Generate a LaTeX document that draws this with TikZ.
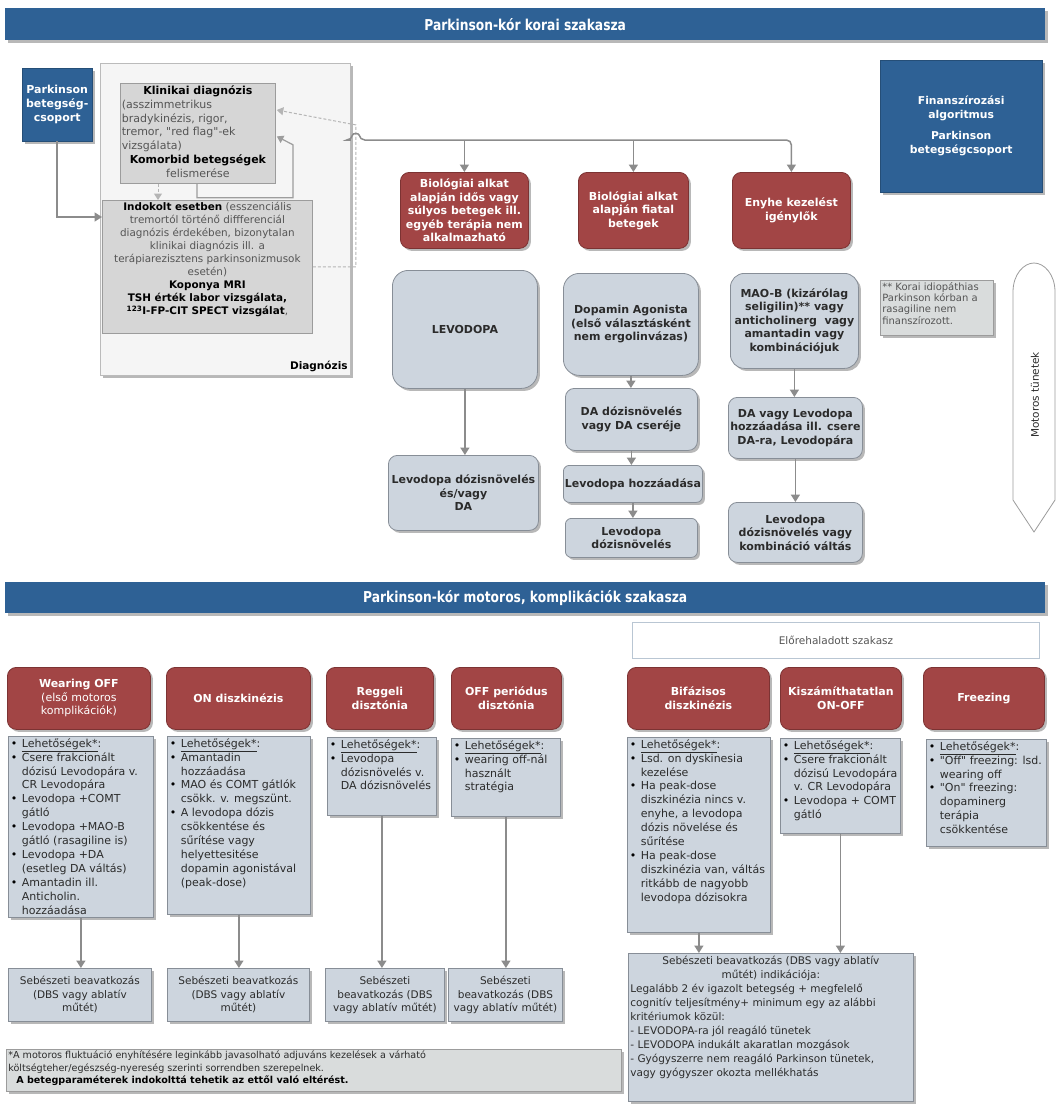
\documentclass[tikz,border=0pt]{standalone}
\usepackage{fontspec}
\setmainfont{DejaVu Sans}[Ligatures=TeXOff]
\newfontfamily\hdrfont[FakeStretch=0.82]{DejaVu Sans}
\usetikzlibrary{arrows.meta,shadows,calc}
\definecolor{hdrblue}{HTML}{2E6195}
\definecolor{redfill}{HTML}{A24545}
\definecolor{redline}{HTML}{7C3333}
\definecolor{bluegray}{HTML}{CDD5DE}
\definecolor{bgline}{HTML}{878E97}
\definecolor{diagfill}{HTML}{F5F5F5}
\definecolor{diagline}{HTML}{BBBBBB}
\definecolor{grayfill}{HTML}{D6D6D6}
\definecolor{grayline}{HTML}{9C9C9C}
\definecolor{arrgray}{HTML}{8C8C8C}
\definecolor{dashgray}{HTML}{B5B5B5}
\definecolor{txtdark}{HTML}{2B2B2B}
\definecolor{txtgray}{HTML}{555555}
\definecolor{notefill}{HTML}{D9DCDC}
\definecolor{eloline}{HTML}{B9C6D3}
\newcommand\fB{\fontsize{11}{13.5}\selectfont\bfseries}
\newcommand\fR{\fontsize{10.5}{13.5}\selectfont}
\newcommand\fL{\fontsize{11}{13.9}\selectfont}
\newcommand\bul{\par\hangindent=11pt\hangafter=1\noindent\makebox[11pt][l]{\textcolor{black}{\textbullet}}}
\newcommand\lopt{\bul\underline{Lehetőségek*}:}
\newcommand\lcontent[3]{\parbox[t][#2][t]{#1}{\fL\color{txtdark}\rightskip=0pt plus 1fil\relax #3\par}}
\begin{document}
\begin{tikzpicture}[x=1pt,y=-1pt,
  shad/.style={drop shadow={shadow xshift=2.5pt,shadow yshift=-2.5pt,fill=black,opacity=0.28}},
  hdr/.style={fill=hdrblue,text=white,font=\hdrfont\bfseries\fontsize{15}{17}\selectfont,anchor=north west,inner sep=0pt,shad},
  bluebox/.style={fill=hdrblue,draw=hdrblue!80!black,text=white,font=\fB,align=center,anchor=north west,inner sep=1pt,shad},
  diagbox/.style={fill=diagfill,draw=diagline,line width=0.8pt,anchor=north west,inner sep=0pt,shad},
  graybox/.style={fill=grayfill,draw=grayline,line width=0.8pt,anchor=north west,inner xsep=1.5pt,inner ysep=2pt},
  redbox/.style={fill=redfill,draw=redline,line width=0.8pt,rounded corners=9pt,text=white,font=\fB,align=center,anchor=north west,inner sep=1pt,shad},
  bgbox/.style={fill=bluegray,draw=bgline,line width=0.8pt,rounded corners=9pt,text=txtdark,font=\fB,align=center,anchor=north west,inner sep=1pt,shad},
  listbox/.style={fill=bluegray,draw=bgline,line width=0.8pt,anchor=north west,inner xsep=2.5pt,inner ysep=2pt,shad},
  sebbox/.style={fill=bluegray,draw=bgline,line width=0.8pt,text=txtdark,font=\fR,align=center,anchor=north west,inner sep=1pt,shad},
  notebox/.style={fill=notefill,draw=grayline,line width=0.6pt,anchor=north west,inner sep=2pt,shad},
  elobox/.style={fill=white,draw=eloline,line width=1pt,anchor=north west,font=\fontsize{10.5}{12}\selectfont,text=txtgray},
  arr/.style={draw=arrgray,line width=1.6pt,-{Triangle[length=7.5pt,width=9pt]}},
  fbline/.style={draw=arrgray!85,line width=1.2pt,-{Triangle[length=6.5pt,width=8pt]}},
  dasharr/.style={draw=dashgray,line width=1pt,dash pattern=on 3pt off 2pt,-{Triangle[length=6.5pt,width=8pt]}},
  mainline/.style={draw=arrgray,line width=1.5pt,rounded corners=5pt}
]
\useasboundingbox (0,0) rectangle (1063,1117);
\fill[white] (0,0) rectangle (1063,1117);

% ---------- headers
\node[hdr,minimum width=1040pt,minimum height=32pt] (h1) at (5,8) {Parkinson-kór korai szakasza};
\node[hdr,minimum width=1040pt,minimum height=31pt] (h2) at (5,582) {Parkinson-kór motoros, komplikációk szakasza};

% ---------- diagnosis area
\node[bluebox,minimum width=70pt,minimum height=73pt,font=\fontsize{11}{14}\selectfont\bfseries] (pbox) at (22,68) {Parkinson\\betegség-\\csoport};
\node[diagbox,minimum width=250pt,minimum height=312pt] (diag) at (100,63) {};
\node[anchor=south east,font=\fontsize{10.5}{12}\selectfont\bfseries,inner sep=1pt] (diaglbl) at ($(diag.south east)+(-2,-3)$) {Diagnózis};

\node[graybox] (klin) at (120,83) {\parbox[t][96pt][t]{152pt}{\fontsize{11}{13.9}\selectfont\color{txtgray}%
{\centering\textcolor{black}{\bfseries Klinikai diagnózis}\par}
(asszimmetrikus\\bradykinézis, rigor,\\tremor, "red flag"-ek\\vizsgálata)\par
{\centering\textcolor{black}{\bfseries Komorbid betegségek}\\felismerése\par}}};

\node[graybox] (indok) at (102,200) {\parbox[t][129pt][t]{207pt}{\centering\fontsize{10.4}{13}\selectfont\color{txtgray}%
\textcolor{black}{\bfseries Indokolt esetben} (esszenciális\\tremortól történő diffferenciál\\diagnózis érdekében, bizonytalan\\klinikai diagnózis ill. a\\terápiarezisztens parkinsonizmusok\\esetén)\\
\textcolor{black}{\bfseries Koponya MRI\\TSH érték labor vizsgálata,\\\textsuperscript{123}I-FP-CIT SPECT vizsgálat},\par}};

% diagnosis connectors
\draw[arr] (pbox.south) |- ($(indok.north west)+(0,17)$);
\draw[dasharr] ($(klin.south west)+(38,0)$) -- ($(indok.north west)+(56,0)$);
\draw[fbline] ($(klin.south west)+(77,0)$) -- ++(0,14) -- ++(96,0) -- ++(0,-53) -- ($(klin.east)+(1,3)$);
\draw[dasharr] (indok.east) -- ++(43,0) -- ++(0,-142) -- ($(klin.north east)+(1,27)$);

% ---------- early stage branches
\node[redbox,minimum width=128pt,minimum height=76pt] (R1) at (400,172) {Biológiai alkat\\alapján idős vagy\\súlyos betegek ill.\\egyéb terápia nem\\alkalmazható};
\node[redbox,minimum width=110pt,minimum height=76pt] (R2) at (578,172) {Biológiai alkat\\alapján fiatal\\betegek};
\node[redbox,minimum width=118pt,minimum height=76pt] (R3) at (732,172) {Enyhe kezelést\\igénylők};

\coordinate (bstart) at ($(diag.north east)+(0,77)$);
\draw[mainline,-{Triangle[length=7.5pt,width=9pt]}] (bstart) -- ($(bstart)+(1,0)$) .. controls ($(bstart)+(2,-7)$) and ($(bstart)+(8,-7)$) .. ($(bstart)+(9,0)$) -- (R3.north |- bstart) -- (R3.north);
\draw[arr] (R1.north |- bstart) -- (R1.north);
\draw[arr] (R2.north |- bstart) -- (R2.north);

\node[bgbox,rounded corners=16pt,minimum width=145pt,minimum height=118pt] (lev) at (392,270) {LEVODOPA};
\node[bgbox,minimum width=150pt,minimum height=75pt] (levd) at (388,455) {Levodopa dózisnövelés\\és/vagy\\DA};
\node[bgbox,rounded corners=16pt,minimum width=135pt,minimum height=102pt] (dop) at (563,273) {Dopamin Agonista\\(első választásként\\nem ergolinvázas)};
\node[bgbox,minimum width=132pt,minimum height=62pt] (dad) at (565,388) {DA dózisnövelés\\vagy DA cseréje};
\node[bgbox,rounded corners=6pt,minimum width=139pt,minimum height=37pt,inner sep=0pt] (lhoz) at (563,465) {Levodopa hozzáadása};
\node[bgbox,rounded corners=6pt,minimum width=132pt,minimum height=39pt] (ldoz) at (565,518) {Levodopa\\dózisnövelés};
\node[bgbox,rounded corners=14pt,minimum width=128pt,minimum height=95pt] (mao) at (730,273) {MAO-B (kizárólag\\seligilin)** vagy\\anticholinerg\ \ vagy\\amantadin vagy\\kombinációjuk};
\node[bgbox,minimum width=134pt,minimum height=61pt] (davl) at (728,397) {DA vagy Levodopa\\hozzáadása ill. csere\\DA-ra, Levodopára};
\node[bgbox,minimum width=134pt,minimum height=60pt] (lkomb) at (728,502) {Levodopa\\dózisnövelés vagy\\kombináció váltás};

\draw[arr] (lev.south) -- (lev.south |- levd.north);
\draw[arr] (dop.south) -- (dop.south |- dad.north);
\draw[arr] (dad.south) -- (dad.south |- lhoz.north);
\draw[arr] (lhoz.south) -- (lhoz.south |- ldoz.north);
\draw[arr] (mao.south) -- (mao.south |- davl.north);
\draw[arr] (davl.south) -- (davl.south |- lkomb.north);

% ---------- right column
\node[bluebox,minimum width=162pt,minimum height=132pt,font=\fontsize{10.8}{14}\selectfont\bfseries] (fin) at (880,60) {Finanszírozási\\algoritmus\\[7pt]Parkinson\\betegségcsoport};
\node[notebox] (note1) at (880,280) {\parbox[t][51pt][t]{109pt}{\fontsize{10}{11.3}\selectfont\color{txtgray}** Korai idiopáthias\\Parkinson kórban a\\rasagiline nem\\finanszírozott.}};
\draw[draw=grayline,fill=white,line width=0.8pt] (1013,500) -- (1013,292) .. controls (1013,274) and (1024,263) .. (1034,263) .. controls (1044,263) and (1055,274) .. (1055,292) -- (1055,500) -- (1034,532) -- cycle;
\node[rotate=90,font=\fontsize{10.5}{12}\selectfont,text=txtdark] (mot) at (1035,395) {Motoros tünetek};

% ---------- motor complication stage
\node[elobox,minimum width=407pt,minimum height=36pt] (elo) at (632,622) {Előrehaladott szakasz};

\node[redbox,minimum width=143pt,minimum height=62pt] (rw) at (7,667) {Wearing OFF\\\textmd{(első motoros}\\\textmd{komplikációk)}};
\node[redbox,minimum width=144pt,minimum height=62pt] (ron) at (166,667) {ON diszkinézis};
\node[redbox,minimum width=107pt,minimum height=62pt] (rreg) at (326,667) {Reggeli\\disztónia};
\node[redbox,minimum width=110pt,minimum height=62pt] (roff) at (451,667) {OFF periódus\\disztónia};
\node[redbox,minimum width=142pt,minimum height=62pt] (rbif) at (627,667) {Bifázisos\\diszkinézis};
\node[redbox,minimum width=121pt,minimum height=62pt] (rkis) at (780,667) {Kiszámíthatatlan\\ON-OFF};
\node[redbox,minimum width=121pt,minimum height=62pt] (rfrz) at (923,667) {Freezing};

\node[listbox] (lw) at (8,736) {\lcontent{140pt}{177pt}{\lopt
\bul Csere frakcionált\\dózisú Levodopára v.\\CR Levodopára
\bul Levodopa +COMT\\gátló
\bul Levodopa +MAO-B\\gátló (rasagiline is)
\bul Levodopa +DA\\(esetleg DA váltás)
\bul Amantadin ill.\\Anticholin.\\hozzáadása}};
\node[listbox] (lon) at (167,736) {\lcontent{138pt}{174pt}{\lopt
\bul Amantadin\\hozzáadása
\bul MAO és COMT gátlók\\csökk. v. megszünt.
\bul A levodopa dózis\\csökkentése és\\sűrítése vagy\\helyettesitése\\dopamin agonistával\\(peak-dose)}};
\node[listbox] (lreg) at (327,737) {\lcontent{104pt}{74pt}{\lopt
\bul Levodopa\\dózisnövelés v.\\DA dózisnövelés}};
\node[listbox] (loff) at (451,738) {\lcontent{104pt}{74pt}{\lopt
\bul wearing off-nál\\használt\\stratégia}};
\node[listbox] (lbif) at (627,737) {\lcontent{138pt}{191pt}{\lopt
\bul Lsd. on dyskinesia\\kezelése
\bul Ha peak-dose\\diszkinézia nincs v.\\enyhe, a levodopa\\dózis növelése és\\sűrítése
\bul Ha peak-dose\\diszkinézia van, váltás\\ritkább de nagyobb\\levodopa dózisokra}};
\node[listbox] (lkis) at (780,738) {\lcontent{115pt}{91pt}{\lopt
\bul Csere frakcionált\\dózisú Levodopára\\v. CR Levodopára
\bul Levodopa + COMT\\gátló}};
\node[listbox] (lfrz) at (926,739) {\lcontent{115pt}{103pt}{\lopt
\bul "Off" freezing: lsd.\\wearing off
\bul "On" freezing:\\dopaminerg\\terápia\\csökkentése}};

\node[sebbox,minimum width=143pt,minimum height=53pt] (s1) at (8,968) {Sebészeti beavatkozás\\(DBS vagy ablatív\\műtét)};
\node[sebbox,minimum width=142pt,minimum height=53pt] (s2) at (167,968) {Sebészeti beavatkozás\\(DBS vagy ablatív\\műtét)};
\node[sebbox,minimum width=119pt,minimum height=53pt] (s3) at (325,968) {Sebészeti\\beavatkozás (DBS\\vagy ablatív műtét)};
\node[sebbox,minimum width=114pt,minimum height=53pt] (s4) at (448,968) {Sebészeti\\beavatkozás (DBS\\vagy ablatív műtét)};

\node[sebbox,anchor=north west,inner xsep=2pt,inner ysep=3pt] (big) at (628,953) {\parbox[t][142pt][t]{281pt}{\fontsize{10.5}{13.9}\selectfont\color{txtdark}%
{\centering Sebészeti beavatkozás (DBS vagy ablatív\\műtét) indikációja:\par}
{\raggedright Legalább 2 év igazolt betegség + megfelelő\\cognitív teljesítmény+ minimum egy az alábbi\\kritériumok közül:\\- LEVODOPA-ra jól reagáló tünetek\\- LEVODOPA indukált akaratlan mozgások\\- Gyógyszerre nem reagáló Parkinson tünetek,\\vagy gyógyszer okozta mellékhatás\par}}};

\draw[arr] (lw.south) -- (lw.south |- s1.north);
\draw[arr] (lon.south) -- (lon.south |- s2.north);
\draw[arr] (lreg.south) -- (lreg.south |- s3.north);
\draw[arr] (loff.south) -- (loff.south |- s4.north);
\draw[arr] (lbif.south) -- (lbif.south |- big.north);
\draw[arr] (lkis.south) -- (lkis.south |- big.north);

\node[notebox] (note2) at (6,1049) {\parbox[t][38pt][t]{611pt}{\fontsize{9.6}{12.5}\selectfont\color{txtdark}%
*A motoros fluktuáció enyhítésére leginkább javasolható adjuváns kezelések a várható\\költségteher/egészség-nyereség szerinti sorrendben szerepelnek.\\\hspace*{8pt}\textcolor{black}{\bfseries A betegparaméterek indokolttá tehetik az ettől való eltérést.}}};
\end{tikzpicture}
\end{document}
